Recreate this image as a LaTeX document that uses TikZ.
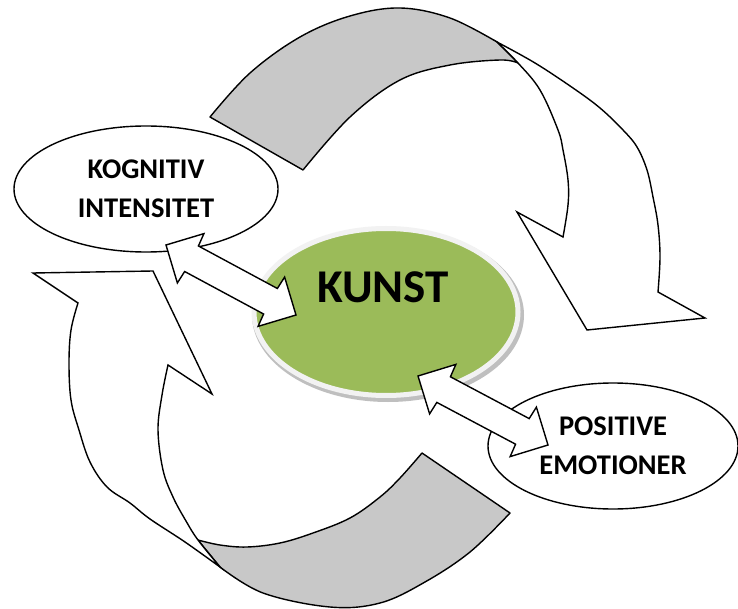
\documentclass[tikz,border=0pt]{standalone}
\usepackage{fontspec}
\setmainfont{Carlito}
\usetikzlibrary{calc,shapes.geometric}

\definecolor{kunstgreen}{HTML}{9BBB59}
\definecolor{bandgray}{HTML}{C8C8C8}

% white double block arrow between two named points
\newcommand{\blockarr}[2]{%
  \filldraw[blockarrow] (#1)
    -- ($(#1)!28pt!(#2)!28pt!90:(#2)$)
    -- ($(#1)!29pt!(#2)!14.5pt!90:(#2)$)
    -- ($(#2)!29pt!(#1)!14.5pt!-90:(#1)$)
    -- ($(#2)!28pt!(#1)!28pt!-90:(#1)$)
    -- (#2)
    -- ($(#2)!28pt!(#1)!28pt!90:(#1)$)
    -- ($(#2)!29pt!(#1)!14.5pt!90:(#1)$)
    -- ($(#1)!29pt!(#2)!14.5pt!-90:(#2)$)
    -- ($(#1)!28pt!(#2)!28pt!-90:(#2)$)
    -- cycle;}

\begin{document}
\begin{tikzpicture}[x=1pt, y=-1pt,
    band/.style={fill=bandgray, draw=black, line width=1.4pt, line join=round},
    front/.style={fill=white, draw=black, line width=1.4pt},
    ovalbox/.style={ellipse, draw=black, fill=white, line width=1.4pt, inner sep=0pt,
      align=center, font=\fontsize{28.5}{39}\selectfont\bfseries},
    kunstbox/.style={ellipse, fill=kunstgreen, draw=gray!10, line width=5pt, inner sep=0pt},
    blockarrow/.style={fill=white, draw=black, line width=1.4pt}
  ]
  \path[use as bounding box, fill=white] (0,0) rectangle (738,609);

  %-----------------------------
  % 1) Upper curved arrow
  %-----------------------------
  % grey back side
  \filldraw[band] (303,170) -- (210,117)
    -- plot[smooth, tension=0.6] coordinates {(210,117) (250,73) (300,37) (350,16) (400,8) (450,18) (497,42)}
    -- (518,63)
    -- plot[smooth, tension=0.6] coordinates {(518,63) (500,60) (450,65) (400,80) (350,117) (303,170)}
    -- cycle;
  % white front with head
  \filldraw[front] (497,42)
    -- plot[smooth, tension=0.6] coordinates {(497,42) (535,63) (573,88) (600,108) (623,130) (637,147) (647,170) (653,197) (658,225) (660,257) (658,292)}
    -- (705,318) -- (587,330) -- (517,212) -- (563,237)
    -- plot[smooth, tension=0.6] coordinates {(563,237) (568,205) (568,180) (563,150) (558,130) (540,90) (518,63) (497,42)}
    -- cycle;

  %-----------------------------
  % 2) Lower curved arrow
  %-----------------------------
  % grey back side
  \filldraw[band] (422,453) -- (510,513)
    -- plot[smooth, tension=0.6] coordinates {(510,513) (470,552) (425,582) (380,603) (330,607) (263,593) (220,567)}
    -- (198,540)
    -- plot[smooth, tension=0.6] coordinates {(198,540) (220,545) (247,547) (280,543) (313,533) (350,518) (380,497) (400,478) (422,453)}
    -- cycle;
  % white front with head
  \filldraw[front] (220,567)
    -- plot[smooth, tension=0.6] coordinates {(220,567) (185,542) (150,519) (130,503) (107,487) (90,462) (79,430) (71,400) (69,363) (71,330) (78,303)}
    -- (33,273) -- (153,271) -- (212,394) -- (168,365)
    -- plot[smooth, tension=0.6] coordinates {(168,365) (162,395) (158,430) (163,470) (173,497) (186,521) (198,540) (220,567)}
    -- cycle;

  %-----------------------------
  % Ovals
  %-----------------------------
  \node[ovalbox, minimum width=264pt, minimum height=126pt] (kog) at (146,189) {KOGNITIV\\INTENSITET};
  \node[ovalbox, minimum width=250pt, minimum height=126pt] (pos) at (613,446) {POSITIVE\\EMOTIONER};

  % green centre with soft rim
  \fill[gray!50] (388,315) ellipse [x radius=136, y radius=87];
  \node[kunstbox, minimum width=264pt, minimum height=167pt] (kunst) at (386,312) {};
  \node[font=\fontsize{47}{47}\selectfont\bfseries] (kunsttxt) at (383,287) {KUNST};

  %-----------------------------
  % Double arrows
  %-----------------------------
  \coordinate (a1s) at ($(kog.center)+(20,56)$);
  \coordinate (a1e) at ($(kunst.center)+(-90,3)$);
  \coordinate (a2s) at ($(kunst.center)+(32,64)$);
  \coordinate (a2e) at ($(pos.center)+(-65,-1)$);
  \blockarr{a1s}{a1e}
  \blockarr{a2s}{a2e}

\end{tikzpicture}
\end{document}
